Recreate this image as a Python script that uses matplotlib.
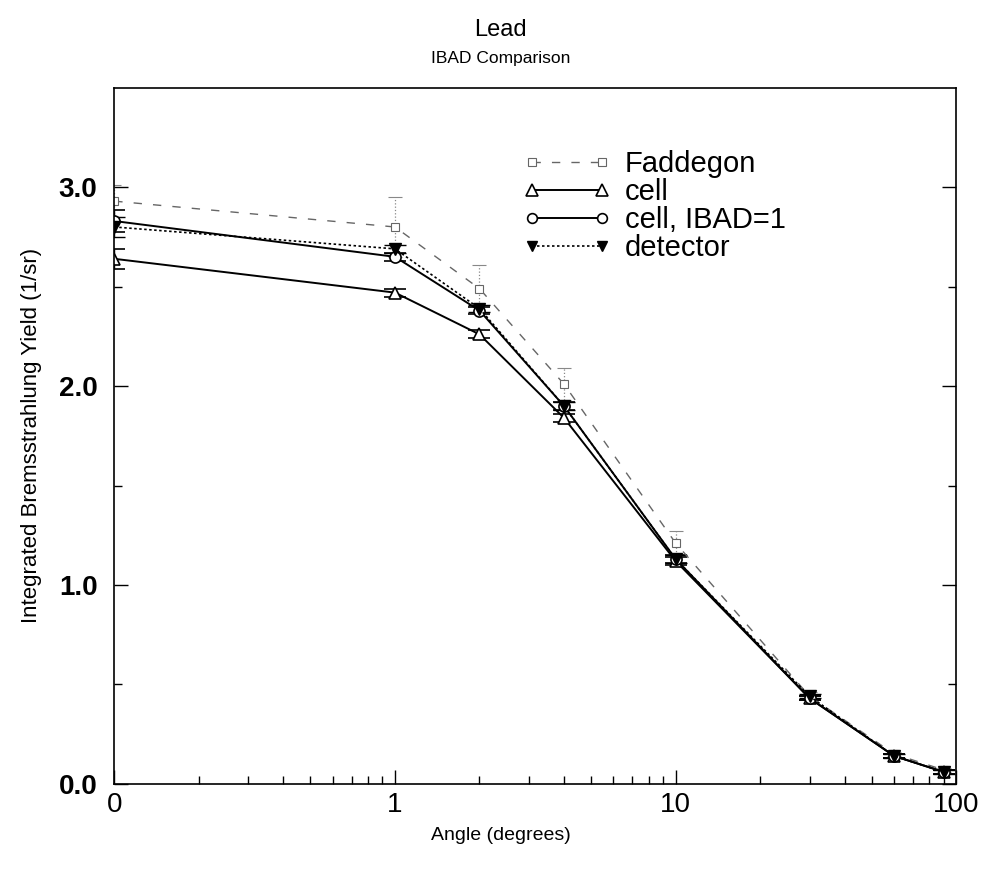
import matplotlib.pyplot as plt
import numpy as np
from matplotlib.lines import Line2D
from matplotlib.ticker import FixedLocator, LogLocator, NullFormatter

plt.rcParams["font.family"] = ["Liberation Sans", "DejaVu Sans"]

# angle 0 is drawn at the left edge of the log axis (0.1)
ANGLES = [0.1, 1, 2, 4, 10, 30, 60, 90]

faddegon = [2.93, 2.80, 2.49, 2.01, 1.21, 0.44, 0.15, 0.07]
faddegon_err = [0.08, 0.15, 0.12, 0.08, 0.06, 0.02, 0.01, 0.01]

cell = [2.64, 2.47, 2.26, 1.84, 1.12, 0.43, 0.14, 0.06]
cell_err = [0.05, 0.02, 0.02, 0.02, 0.02, 0.01, 0.01, 0.01]

cell_ibad = [2.83, 2.65, 2.38, 1.90, 1.13, 0.43, 0.14, 0.06]
cell_ibad_err = [0.055, 0.02, 0.02, 0.02, 0.02, 0.01, 0.01, 0.01]

detector = [2.80, 2.69, 2.39, 1.90, 1.13, 0.44, 0.14, 0.06]
detector_err = [0.05, 0.02, 0.02, 0.02, 0.02, 0.01, 0.01, 0.01]

fig = plt.figure(figsize=(9.85, 8.69), dpi=100)
ax = fig.add_axes([0.116, 0.098, 0.855, 0.801])

fad_style = dict(color="#666666", ls=(0, (6, 8)), lw=1.0, marker="s", ms=6,
                 mfc="white", mec="#666666", mew=0.8)
cell_style = dict(color="black", ls="-", lw=1.4, marker="^", ms=9,
                  mfc="white", mec="black", mew=1.2)
ibad_style = dict(color="black", ls="-", lw=1.4, marker="o", ms=8,
                  mfc="white", mec="black", mew=1.2)
det_style = dict(color="black", ls=(0, (1.5, 1.5)), lw=1.2, marker="v", ms=8,
                 mfc="black", mec="black")

eb = ax.errorbar(ANGLES, faddegon, yerr=faddegon_err, capsize=5, elinewidth=0.9,
                 ecolor="#888888", **fad_style)
eb[2][0].set_linestyle(":")
ax.errorbar(ANGLES, cell, yerr=cell_err, capsize=8, elinewidth=1.0, **cell_style)
ax.errorbar(ANGLES, cell_ibad, yerr=cell_ibad_err, capsize=8, elinewidth=1.0, **ibad_style)
ax.errorbar(ANGLES, detector, yerr=detector_err, capsize=8, elinewidth=1.0, **det_style)

ax.set_xscale("log")
ax.set_xlim(0.1, 100)
ax.set_ylim(0, 3.5)

ax.xaxis.set_major_locator(FixedLocator([0.1, 1, 10, 100]))
ax.set_xticklabels(["0", "1", "10", "100"])
ax.xaxis.set_minor_locator(LogLocator(base=10, subs=np.arange(2, 10)))
ax.xaxis.set_minor_formatter(NullFormatter())

ax.set_yticks([0, 1, 2, 3])
ax.set_yticklabels(["0.0", "1.0", "2.0", "3.0"], fontweight="bold")
ax.yaxis.set_minor_locator(FixedLocator([0.5, 1.5, 2.5]))

ax.tick_params(which="both", direction="in", top=False, right=True, width=1.0)
ax.tick_params(which="major", length=10, labelsize=20)
ax.tick_params(axis="y", which="major", pad=12)
ax.tick_params(axis="x", which="major", pad=6)
ax.tick_params(which="minor", length=6)
for s in ax.spines.values():
    s.set_linewidth(1.2)

ax.set_ylabel("Integrated Bremsstrahlung Yield (1/sr)", fontsize=16, labelpad=12)
fig.text(0.509, 0.038, "Angle (degrees)", ha="center", va="center", fontsize=14)

fig.text(0.508, 0.965, "Lead", ha="center", va="center", fontsize=17)
fig.text(0.508, 0.933, "IBAD Comparison", ha="center", va="center", fontsize=12.5)

handles = [
    Line2D([], [], ms=6, **{k: v for k, v in fad_style.items() if k != "ms"}),
    Line2D([], [], ms=8, **{k: v for k, v in cell_style.items() if k != "ms"}),
    Line2D([], [], ms=7, **{k: v for k, v in ibad_style.items() if k != "ms"}),
    Line2D([], [], ms=7, **{k: v for k, v in det_style.items() if k != "ms"}),
]
labels = ["Faddegon", "cell", "cell, IBAD=1", "detector"]
ax.legend(handles, labels, loc="upper left", bbox_to_anchor=(0.468, 0.931),
          frameon=False, fontsize=21, numpoints=2, handlelength=3.0,
          labelspacing=0.0, handletextpad=0.5, borderpad=0)

fig.savefig("out.png", dpi=100)
